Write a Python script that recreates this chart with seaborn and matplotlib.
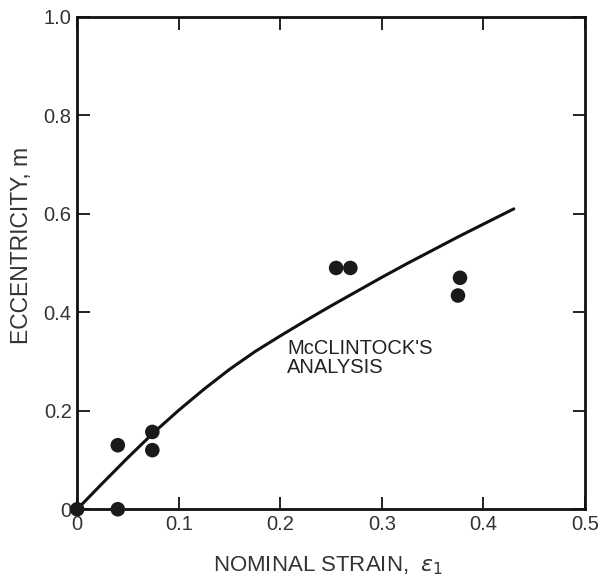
import matplotlib
matplotlib.use("Agg")
import matplotlib.pyplot as plt
import seaborn as sns
import pandas as pd

# Experimental points
strain_pts = [0.0, 0.04, 0.04, 0.074, 0.074, 0.255, 0.269, 0.377, 0.375]
ecc_pts = [0.0, 0.0, 0.13, 0.157, 0.12, 0.49, 0.49, 0.47, 0.434]

# McClintock's analysis curve
strain_curve = [0.0, 0.025, 0.05, 0.075, 0.1, 0.125, 0.15, 0.175, 0.2,
                0.225, 0.25, 0.275, 0.3, 0.325, 0.35, 0.375, 0.4, 0.43]
ecc_curve = [0.0, 0.053, 0.105, 0.155, 0.201, 0.244, 0.284, 0.320, 0.352,
             0.383, 0.413, 0.442, 0.471, 0.499, 0.526, 0.553, 0.579, 0.61]

x_ticks = [0, 0.1, 0.2, 0.3, 0.4, 0.5]
x_labels = ["0", "0.1", "0.2", "0.3", "0.4", "0.5"]
y_ticks = [0, 0.2, 0.4, 0.6, 0.8, 1.0]
y_labels = ["0", "0.2", "0.4", "0.6", "0.8", "1.0"]

sns.set_style("white")
plt.rcParams['font.family'] = ['Liberation Sans', 'DejaVu Sans']
plt.rcParams['mathtext.fontset'] = 'dejavusans'

fig = plt.figure(figsize=(6.03, 5.8), dpi=100)
ax = fig.add_axes([0.128, 0.122, 0.842, 0.849])

df_pts = pd.DataFrame({"x": strain_pts, "y": ecc_pts})
df_curve = pd.DataFrame({"x": strain_curve, "y": ecc_curve})

sns.lineplot(data=df_curve, x="x", y="y", ax=ax, color="#111111", linewidth=2.2,
             estimator=None, sort=False)
sns.scatterplot(data=df_pts, x="x", y="y", ax=ax, color="#1a1a1a", s=110,
                edgecolor="none", zorder=5, clip_on=False)

ax.set_xlim(0, 0.5)
ax.set_ylim(0, 1.0)
ax.set_xticks(x_ticks)
ax.set_xticklabels(x_labels)
ax.set_yticks(y_ticks)
ax.set_yticklabels(y_labels)

for s in ax.spines.values():
    s.set_color("#111111")
    s.set_linewidth(2.0)
    s.set_visible(True)

ax.tick_params(axis="both", which="major", direction="in", length=9, width=1.3,
               color="#111111", labelsize=14.5, labelcolor="#333333",
               top=True, right=True, bottom=True, left=True, pad=4)

ax.set_xlabel("NOMINAL STRAIN,  $\\epsilon_1$", fontsize=16, color="#333333")
ax.set_ylabel("ECCENTRICITY, m", fontsize=16.5, color="#333333")
ax.xaxis.set_label_coords(0.495, -0.114)
ax.xaxis.label.set_va("center")
ax.yaxis.set_label_coords(-0.110, 0.535)
ax.yaxis.label.set_va("center")

ax.text(0.207, 0.345, "McCLINTOCK'S\nANALYSIS", fontsize=14.5, color="#222222",
        ha="left", va="top", linespacing=0.95)

fig.savefig("out.png", dpi=100, facecolor="white")
